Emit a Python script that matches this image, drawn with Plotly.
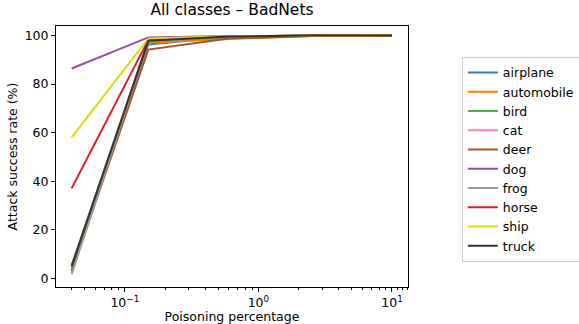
import plotly.graph_objects as go

x_vals = [0.04, 0.15, 0.6, 2.5, 10]
classes = ["airplane", "automobile", "bird", "cat", "deer", "dog", "frog", "horse", "ship", "truck"]
airplane = [4.0, 96.3, 99.5, 99.9, 100]
automobile = [3.0, 97.0, 98.5, 99.8, 100]
bird = [5.5, 97.5, 99.5, 100, 100]
cat = [3.0, 98.5, 99.7, 100, 100]
deer = [3.0, 94.2, 98.8, 99.8, 99.9]
dog = [86.4, 99.2, 99.8, 100, 100]
frog = [1.8, 97.5, 99.6, 100, 100]
horse = [37.1, 98.2, 99.6, 100, 100]
ship = [58.1, 98.8, 99.7, 100, 100]
truck = [5.0, 97.8, 99.6, 100, 100]
series = [airplane, automobile, bird, cat, deer, dog, frog, horse, ship, truck]
colors = ['#377eb8', '#ff7f00', '#4daf4a', '#f781bf', '#a65628', '#984ea3',
          '#999999', '#e41a1c', '#dede00', '#333333']

x_tickvals = [0.1, 1, 10]
x_ticktext = ["10<sup>−1</sup>", "10<sup>0</sup>", "10<sup>1</sup>"]
y_tickvals = [0, 20, 40, 60, 80, 100]

fig = go.Figure()
for name, vals, c in zip(classes, series, colors):
    fig.add_trace(go.Scatter(x=x_vals, y=vals, mode="lines", name=name,
                             line=dict(color=c, width=2)))

font = "DejaVu Sans, sans-serif"
fig.update_layout(
    width=579, height=324,
    margin=dict(l=56, r=171, t=26, b=37, autoexpand=False),
    paper_bgcolor="white", plot_bgcolor="white",
    font=dict(family=font, size=12.5, color="black"),
    title=dict(text="All classes – BadNets", x=0.5, xref="paper", xanchor="center",
               y=1, yref="container", yanchor="top", pad=dict(t=4),
               font=dict(size=15.5, family=font, color="black")),
    legend=dict(x=1.153, y=0.882, xanchor="left", yanchor="top",
                bordercolor="#cccccc", borderwidth=1, bgcolor="white",
                font=dict(size=12.5, family=font), tracegroupgap=0),
    showlegend=True,
)
fig.update_xaxes(
    type="log", range=[-1.515, 1.12], automargin=False,
    tickvals=x_tickvals, ticktext=x_ticktext,
    ticks="outside", ticklen=4, tickcolor="black",
    showline=True, linecolor="black", linewidth=1, mirror=True,
    showgrid=False, zeroline=False,
    minor=dict(ticks="outside", ticklen=2, tickcolor="black", showgrid=False,
               tickvals=[0.03, 0.04, 0.05, 0.06, 0.07, 0.08, 0.09,
                         0.2, 0.3, 0.4, 0.5, 0.6, 0.7, 0.8, 0.9,
                         2, 3, 4, 5, 6, 7, 8, 9, 11, 12, 13]),
    title=dict(text="Poisoning percentage", standoff=3, font=dict(size=12.5)),
    tickfont=dict(size=12.5),
)
fig.update_yaxes(
    range=[-3.5, 103.9], tickvals=y_tickvals, automargin=False,
    ticks="outside", ticklen=4, tickcolor="black",
    showline=True, linecolor="black", linewidth=1, mirror=True,
    showgrid=False, zeroline=False,
    title=dict(text="Attack success rate (%)", standoff=4, font=dict(size=12.5)),
    tickfont=dict(size=12.5),
)
fig.write_html("out.html")
